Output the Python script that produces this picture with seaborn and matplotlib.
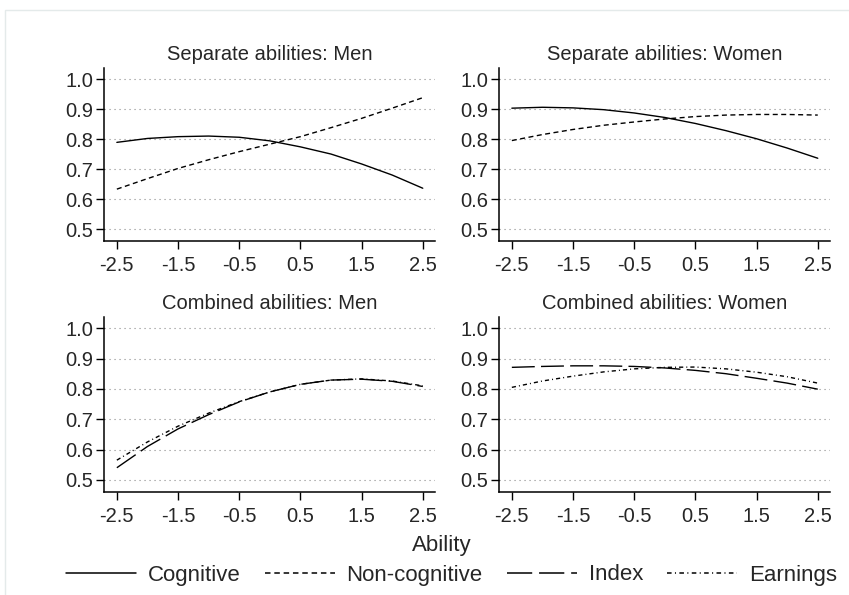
import matplotlib
matplotlib.use("Agg")
import matplotlib.pyplot as plt
from matplotlib.patches import Rectangle
from matplotlib.lines import Line2D
import seaborn as sns
import pandas as pd

# ---------------- data ----------------
ability = [-2.5, -2.0, -1.5, -1.0, -0.5, 0.0, 0.5, 1.0, 1.5, 2.0, 2.5]

sep_men_cognitive = [0.789, 0.802, 0.808, 0.810, 0.806, 0.794, 0.774, 0.750, 0.717, 0.680, 0.636]
sep_men_noncog = [0.633, 0.668, 0.702, 0.731, 0.758, 0.783, 0.808, 0.838, 0.869, 0.903, 0.938]
sep_women_cognitive = [0.903, 0.906, 0.904, 0.898, 0.887, 0.872, 0.852, 0.828, 0.801, 0.770, 0.736]
sep_women_noncog = [0.795, 0.815, 0.832, 0.846, 0.857, 0.867, 0.875, 0.880, 0.882, 0.882, 0.880]
comb_men_index = [0.540, 0.610, 0.668, 0.715, 0.757, 0.790, 0.815, 0.829, 0.832, 0.825, 0.808]
comb_men_earnings = [0.565, 0.625, 0.677, 0.720, 0.758, 0.790, 0.815, 0.829, 0.833, 0.826, 0.810]
comb_women_index = [0.871, 0.874, 0.876, 0.876, 0.874, 0.869, 0.861, 0.850, 0.835, 0.819, 0.799]
comb_women_earnings = [0.805, 0.826, 0.842, 0.856, 0.866, 0.871, 0.872, 0.866, 0.855, 0.840, 0.819]

panel_titles = ["Separate abilities: Men", "Separate abilities: Women",
                "Combined abilities: Men", "Combined abilities: Women"]
series_names = ["Cognitive", "Non-cognitive", "Index", "Earnings"]
x_ticks = [-2.5, -1.5, -0.5, 0.5, 1.5, 2.5]
y_ticks = [0.5, 0.6, 0.7, 0.8, 0.9, 1.0]
x_label = "Ability"

panel_series = [
    [("Cognitive", sep_men_cognitive), ("Non-cognitive", sep_men_noncog)],
    [("Cognitive", sep_women_cognitive), ("Non-cognitive", sep_women_noncog)],
    [("Index", comb_men_index), ("Earnings", comb_men_earnings)],
    [("Index", comb_women_index), ("Earnings", comb_women_earnings)],
]

# ---------------- style ----------------
sns.set_style("white")
plt.rcParams["font.family"] = ["Liberation Sans", "DejaVu Sans"]

LW = 1.0
dash_map = {
    "Cognitive": "",
    "Non-cognitive": (3.6, 2.5),
    "Index": (16.5, 4.5),
    "Earnings": (3.0, 2.2, 0.7, 2.2),
}

W, H = 849, 595
fig = plt.figure(figsize=(W / 100, H / 100), dpi=100)
fig.patch.set_facecolor("white")
fig.patches.append(Rectangle((5 / W, -0.02), 1.05, 1 - 10 / H + 0.02,
                             transform=fig.transFigure, fill=False,
                             edgecolor="#e4eaea", lw=1.0, zorder=0))

def px_axes(l, t, r, b):
    return [l / W, 1 - b / H, (r - l) / W, (b - t) / H]

rects = [px_axes(104, 68, 435, 241), px_axes(499, 68, 830, 241),
         px_axes(104, 317, 435, 492), px_axes(499, 317, 830, 492)]

for rect, title, series in zip(rects, panel_titles, panel_series):
    ax = fig.add_axes(rect)
    rows = []
    for name, vals in series:
        for xv, yv in zip(ability, vals):
            rows.append({"Ability": xv, "value": yv, "measure": name})
    df = pd.DataFrame(rows)
    names = [n for n, _ in series]
    sns.lineplot(data=df, x="Ability", y="value", style="measure",
                 style_order=names, dashes={n: dash_map[n] for n in names},
                 color="black", lw=LW, legend=False, ax=ax, zorder=3)
    ax.set_xlim(-2.71, 2.70)
    ax.set_ylim(0.46, 1.037)
    ax.set_xticks(x_ticks)
    ax.set_xticklabels([f"{v:.1f}" for v in x_ticks])
    ax.set_yticks(y_ticks)
    ax.set_yticklabels([f"{v:.1f}" for v in y_ticks])
    ax.set_xlabel("")
    ax.set_ylabel("")
    ax.set_title(title, fontsize=14.5, pad=6)
    for s in ["top", "right"]:
        ax.spines[s].set_visible(False)
    for s in ["left", "bottom"]:
        ax.spines[s].set_color("black")
        ax.spines[s].set_linewidth(1.1)
    ax.tick_params(axis="both", which="major", direction="out", length=5.5,
                   width=1.0, color="black", labelsize=14.5, left=True, bottom=True)
    ax.tick_params(axis="y", pad=2)
    ax.tick_params(axis="x", pad=5)
    ax.grid(axis="y", color="#8a8a8a", linestyle=(0, (1, 3.5)), linewidth=0.8)
    ax.grid(axis="x", visible=False)
    ax.set_axisbelow(True)
    ax.set_facecolor("white")

fig.text(442 / W, 1 - 546 / H, x_label, ha="center", va="center", fontsize=16)

handles = [Line2D([], [], color="black", lw=LW * 1.1,
                  linestyle="-" if dash_map[n] == "" else (0, dash_map[n]))
           for n in series_names]
fig.legend(handles, series_names, loc="center", ncol=4,
           bbox_to_anchor=(451.5 / W, 1 - 575 / H), frameon=False,
           fontsize=16, handlelength=3.15, handletextpad=0.54,
           columnspacing=1.08, borderaxespad=0, borderpad=0)

fig.savefig("out.png", dpi=100, facecolor="white")
